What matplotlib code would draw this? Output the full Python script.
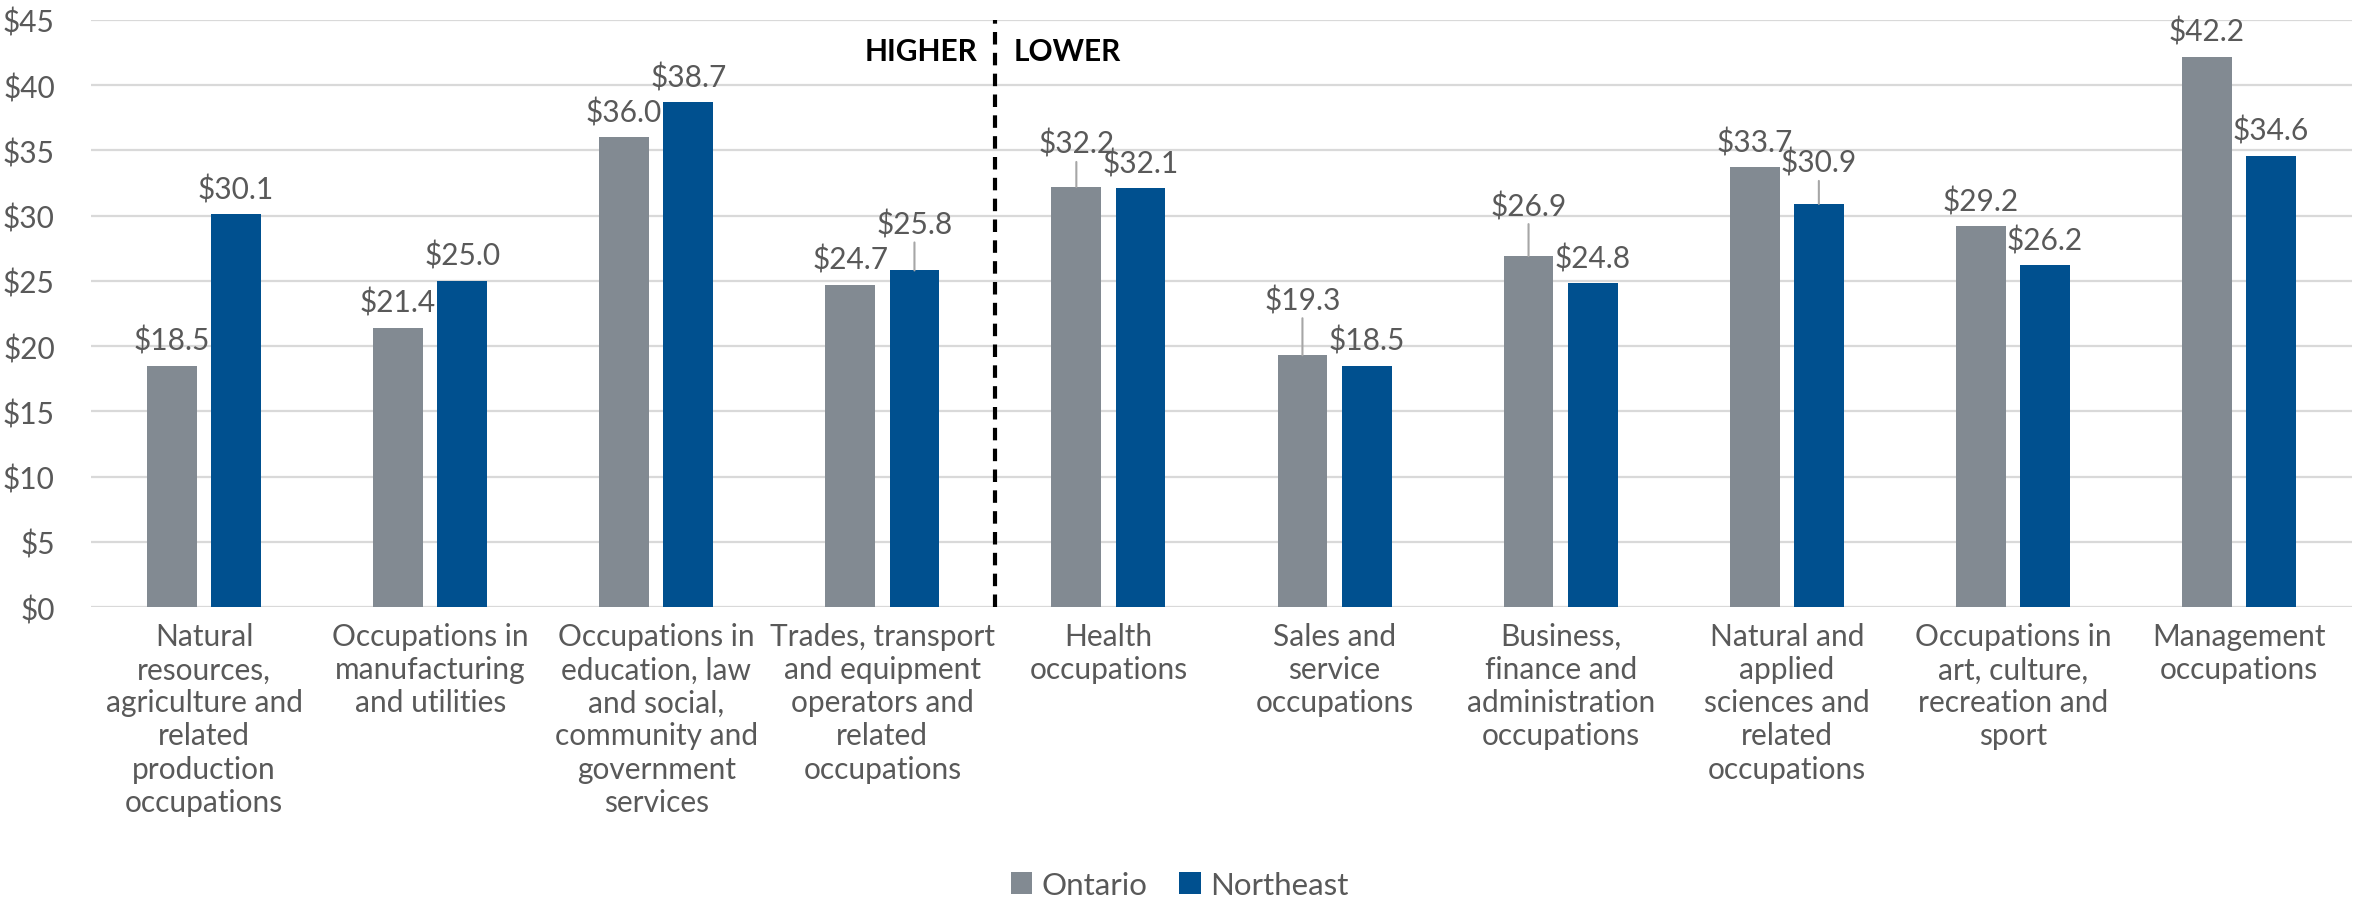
import matplotlib.pyplot as plt
import numpy as np

categories = [
    "Natural\nresources,\nagriculture and\nrelated\nproduction\noccupations",
    "Occupations in\nmanufacturing\nand utilities",
    "Occupations in\neducation, law\nand social,\ncommunity and\ngovernment\nservices",
    "Trades, transport\nand equipment\noperators and\nrelated\noccupations",
    "Health\noccupations",
    "Sales and\nservice\noccupations",
    "Business,\nfinance and\nadministration\noccupations",
    "Natural and\napplied\nsciences and\nrelated\noccupations",
    "Occupations in\nart, culture,\nrecreation and\nsport",
    "Management\noccupations",
]
ontario = [18.5, 21.4, 36.0, 24.7, 32.2, 19.3, 26.9, 33.7, 29.2, 42.2]
northeast = [30.1, 25.0, 38.7, 25.8, 32.1, 18.5, 24.8, 30.9, 26.2, 34.6]
yticks = [0, 5, 10, 15, 20, 25, 30, 35, 40, 45]

GRAY = "#828a92"
BLUE = "#00508f"
TEXT = "#595959"
FONT = 21.5

# labels lifted above the bar with a leader line (series, index) -> px gap
lifted = {("on", 4): 34, ("on", 5): 46, ("on", 6): 41, ("ne", 3): 37, ("ne", 7): 32}

plt.rcParams["font.family"] = ["Lato", "DejaVu Sans"]

fig = plt.figure(figsize=(23.59, 9.03), dpi=100)
ax = fig.add_axes([91 / 2359, 1 - 608 / 903, (2352 - 91) / 2359, (608 - 21) / 903])

x = np.arange(len(categories))
w = 0.22
off = 0.142
ax.bar(x - off, ontario, w, color=GRAY, zorder=3, label="Ontario")
ax.bar(x + off, northeast, w, color=BLUE, zorder=3, label="Northeast")

px = 72 / 100  # points per pixel
for key, xs, vals in (("on", x - off, ontario), ("ne", x + off, northeast)):
    for i, (xi, v) in enumerate(zip(xs, vals)):
        gap = lifted.get((key, i), 16)
        ax.annotate(f"${v:.1f}", (xi, v), xytext=(0, gap * px), textcoords="offset points",
                    ha="center", va="baseline", fontsize=FONT, color=TEXT, zorder=5)
        if (key, i) in lifted:
            ax.annotate("", (xi, v), xytext=(0, (gap - 9) * px), textcoords="offset points",
                        arrowprops=dict(arrowstyle="-", color="#a6a6a6", lw=1.5,
                                        shrinkA=0, shrinkB=0), zorder=4)

ax.set_xlim(-0.5, len(categories) - 0.5)
ax.set_ylim(0, 45)
ax.set_yticks(yticks)
ax.set_yticklabels([f"${t}" for t in yticks])
ax.set_xticks(x)
ax.set_xticklabels(categories, linespacing=1.22)
ax.tick_params(axis="both", length=0, labelsize=FONT, labelcolor=TEXT)
ax.tick_params(axis="y", pad=26)
ax.tick_params(axis="x", pad=11)
ax.grid(axis="y", color="#d9d9d9", lw=1.6, zorder=0)
for s in ax.spines.values():
    s.set_visible(False)

ax.axvline(3.5, color="black", lw=3, ls=(0, (3, 2)), zorder=6)
ax.text(3.42, 42.6, "HIGHER", ha="right", va="center", fontsize=FONT,
        fontweight="bold", color="black")
ax.text(3.58, 42.6, "LOWER", ha="left", va="center", fontsize=FONT,
        fontweight="bold", color="black")

fig.legend(loc="center", bbox_to_anchor=(0.5, 1 - 886 / 903), ncol=2, frameon=False,
           fontsize=FONT + 1, labelcolor=TEXT, handlelength=0.7, handleheight=0.7,
           handletextpad=0.3, columnspacing=1.0)

fig.savefig("out.png", dpi=100)
